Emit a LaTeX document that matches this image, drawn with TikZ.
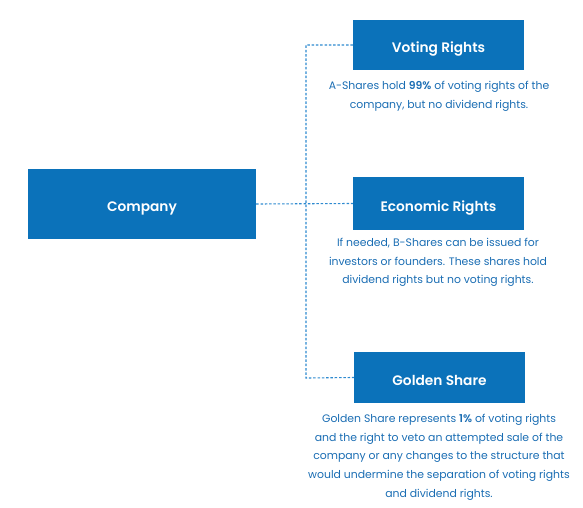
\documentclass[tikz,border=0pt]{standalone}
\usepackage{fontspec}
\setmainfont{Poppins}[BoldFont={Poppins SemiBold}]
\definecolor{boxblue}{HTML}{0B72BA}
\definecolor{txtblue}{HTML}{1A6DB3}
\definecolor{lineblue}{HTML}{2E8AD0}
\begin{document}
\begin{tikzpicture}[x=1bp,y=-1bp,
  box/.style={fill=boxblue,draw=none,text=white,font=\fontsize{13.8}{16}\selectfont\bfseries,inner sep=0pt,text height=16bp,text depth=0bp},
  desc/.style={text=txtblue,font=\fontsize{10.9}{18.8}\selectfont,align=center,inner sep=0pt,anchor=north},
  conn/.style={draw=lineblue,line width=1.1bp,dash pattern=on 2.5bp off 1.8bp}]
\useasboundingbox (0,0) rectangle (583,508);
\node[box,minimum width=228bp,minimum height=70bp] (company) at (142,204) {Company};
\node[box,minimum width=171bp,minimum height=50bp] (voting) at (438.5,45) {Voting Rights};
\node[box,minimum width=171bp,minimum height=52bp] (econ) at (438.5,203.5) {Economic Rights};
\node[box,minimum width=171bp,minimum height=51bp] (golden) at (439.5,377.5) {Golden Share};
\node[desc] (vdesc) at (439,81) {A-Shares hold \textbf{99\%} of voting rights of the\\company, but no dividend rights.};
\node[desc] (edesc) at (438,238) {If needed, B-Shares can be issued for\\investors or founders. These shares hold\\dividend rights but no voting rights.};
\node[desc] (gdesc) at (439,414) {Golden Share represents \textbf{1\%} of voting rights\\and the right to veto an attempted sale of the\\company or any changes to the structure that\\would undermine the separation of voting rights\\and dividend rights.};
\coordinate (jt) at (306,45);
\coordinate (jb) at (306,378);
\draw[conn] (company.east) -- (econ.west);
\draw[conn] (voting.west) -- (jt) -- (jb) -- (golden.west);
\end{tikzpicture}
\end{document}
